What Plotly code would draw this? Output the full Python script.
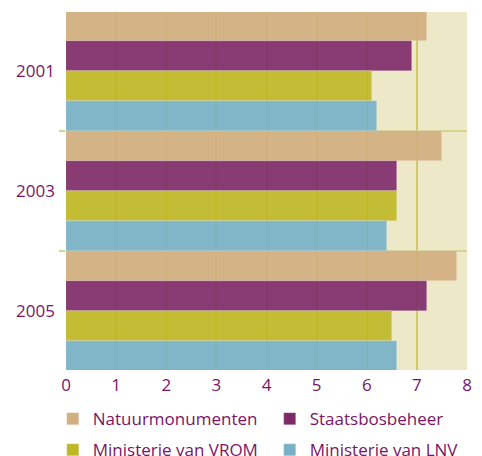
import plotly.graph_objects as go

years = ["2001", "2003", "2005"]
natuurmonumenten = [7.2, 7.5, 7.8]
staatsbosbeheer = [6.9, 6.6, 7.2]
vrom = [6.1, 6.6, 6.5]
lnv = [6.2, 6.4, 6.6]

# name, values, colour, legend column
series = [
    ("Natuurmonumenten", natuurmonumenten, "#d2ae80", "legend"),
    ("Staatsbosbeheer", staatsbosbeheer, "#7e2a6a", "legend2"),
    ("Ministerie van VROM", vrom, "#bfb826", "legend"),
    ("Ministerie van LNV", lnv, "#76b1c8", "legend2"),
]

purple = "#7a1466"
font = "Open Sans"

fig = go.Figure()
for name, vals, color, leg in series:
    fig.add_trace(go.Bar(y=years, x=vals, name=name, orientation="h",
                         legend=leg, legendgroup=name,
                         marker=dict(color=color, opacity=0.9,
                                     line=dict(width=0.6, color="rgba(255,255,255,0.35)"))))

legend_style = dict(orientation="v", y=-0.087, xanchor="left", yanchor="top",
                    traceorder="grouped", font=dict(size=17, color=purple),
                    itemwidth=30, tracegroupgap=6, bgcolor="rgba(0,0,0,0)")

fig.update_layout(
    width=482, height=456,
    barmode="group", bargap=0, bargroupgap=0,
    margin=dict(l=66, r=15, t=12, b=86, autoexpand=False),
    plot_bgcolor="#ede8c8", paper_bgcolor="white",
    font=dict(family=font, size=16, color=purple),
    legend=dict(x=-0.033, **legend_style),
    legend2=dict(x=0.508, **legend_style),
)
fig.update_xaxes(range=[0, 8], dtick=1, showgrid=True, gridcolor="rgba(195,185,70,0.7)",
                 gridwidth=1.5, zeroline=False, ticks="", ticklabelstandoff=3,
                 automargin=False, tickfont=dict(size=17, color=purple))
fig.update_yaxes(range=[2.49, -0.49], tickson="boundaries", showgrid=True,
                 gridcolor="#d4d68f", gridwidth=2, ticks="outside", ticklen=6,
                 tickcolor="#d4d68f", tickwidth=2, ticklabelstandoff=10,
                 automargin=False, tickfont=dict(size=17, color=purple))

fig.write_html("out.html", config={"displayModeBar": False},
               post_script="document.body.style.margin='0';")
